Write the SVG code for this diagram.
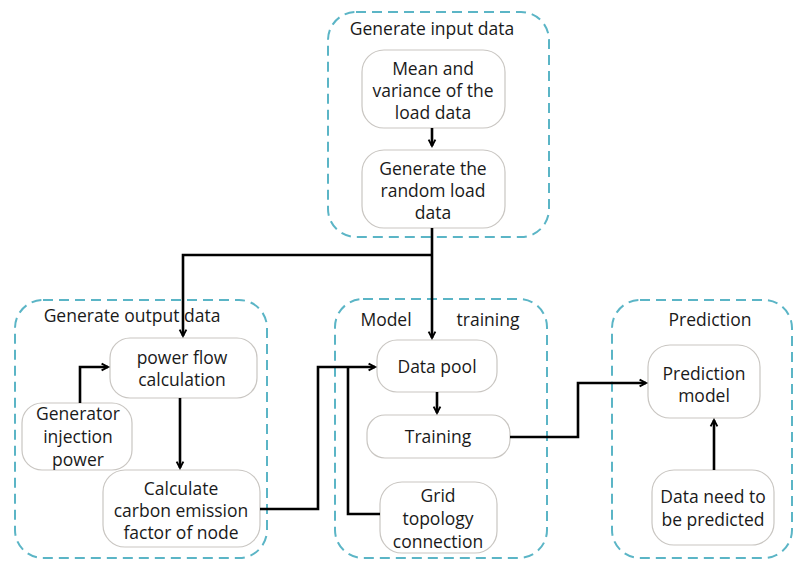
<svg xmlns="http://www.w3.org/2000/svg" width="794" height="563" viewBox="0 0 794 563">
<style>
.grp{fill:none;stroke:#5bb5c6;stroke-width:2;stroke-dasharray:10 6}
.nd{fill:#fff;stroke:#c9c6c2;stroke-width:1.2}
text{font-family:"Open Sans","Noto Sans",sans-serif;font-size:17.5px;fill:#1a1a1a;text-anchor:middle}
.c{fill:none;stroke:#000;stroke-width:2.6}
</style>
<defs>
<marker id="ah" viewBox="0 0 10 10" refX="9" refY="5" markerWidth="8" markerHeight="8" orient="auto" markerUnits="userSpaceOnUse" overflow="visible">
<path d="M1,0.8 L9,5 L1,9.2" fill="none" stroke="#000" stroke-width="2.4"/>
</marker>
</defs>
<rect width="794" height="563" fill="#fff"/>

<g id="grp-input"><rect class="grp" x="328" y="12" width="221" height="225" rx="28"/><text x="432" y="35">Generate input data</text></g>
<g id="grp-output"><rect class="grp" x="15" y="300" width="252" height="258" rx="28"/><text x="132" y="322">Generate output data</text></g>
<g id="grp-model"><rect class="grp" x="335" y="299" width="212" height="259" rx="28"/><text x="386" y="326">Model</text><text x="488" y="326">training</text></g>
<g id="grp-pred"><rect class="grp" x="612" y="300" width="180" height="258" rx="28"/><text x="710" y="326">Prediction</text></g>

<g id="n-mean"><rect class="nd" x="362" y="50" width="143" height="78" rx="22"/><text x="433" y="75">Mean and</text><text x="433" y="97">variance of the</text><text x="433" y="119">load data</text></g>
<g id="n-random"><rect class="nd" x="362" y="150" width="143" height="78" rx="22"/><text x="433" y="175">Generate the</text><text x="433" y="197">random load</text><text x="433" y="219">data</text></g>
<g id="n-powerflow"><rect class="nd" x="110" y="338" width="147" height="60" rx="20"/><text x="182" y="364">power flow</text><text x="182" y="386">calculation</text></g>
<g id="n-generator"><rect class="nd" x="22" y="403" width="110" height="67" rx="20"/><text x="78" y="420">Generator</text><text x="78" y="443">injection</text><text x="78" y="466">power</text></g>
<g id="n-carbon"><rect class="nd" x="103" y="470" width="157" height="77" rx="22"/><text x="181" y="495">Calculate</text><text x="181" y="517">carbon emission</text><text x="181" y="539">factor of node</text></g>
<g id="n-pool"><rect class="nd" x="377" y="340" width="120" height="52" rx="20"/><text x="437" y="373">Data pool</text></g>
<g id="n-training"><rect class="nd" x="367" y="415" width="143" height="43" rx="18"/><text x="438" y="443">Training</text></g>
<g id="n-grid"><rect class="nd" x="380" y="482" width="117" height="71" rx="22"/><text x="438" y="502">Grid</text><text x="438" y="525">topology</text><text x="438" y="548">connection</text></g>
<g id="n-predmodel"><rect class="nd" x="648" y="345" width="112" height="73" rx="22"/><text x="704" y="380">Prediction</text><text x="704" y="402">model</text></g>
<g id="n-datapred"><rect class="nd" x="652" y="470" width="122" height="75" rx="22"/><text x="713" y="503">Data need to</text><text x="713" y="526">be predicted</text></g>

<g id="connectors">
<path class="c" d="M432,128 V146" marker-end="url(#ah)"/>
<path class="c" d="M432,228 V338" marker-end="url(#ah)"/>
<path class="c" d="M432,255 H183 V336" marker-end="url(#ah)"/>
<path class="c" d="M80,403 V367 H108" marker-end="url(#ah)"/>
<path class="c" d="M180,398 V468" marker-end="url(#ah)"/>
<path class="c" d="M260,509 H318 V367 H375" marker-end="url(#ah)"/>
<path class="c" d="M380,514 H348 V367"/>
<path class="c" d="M437,392 V413" marker-end="url(#ah)"/>
<path class="c" d="M510,437 H578 V383 H646" marker-end="url(#ah)"/>
<path class="c" d="M714,470 V420" marker-end="url(#ah)"/>
</g>
</svg>
